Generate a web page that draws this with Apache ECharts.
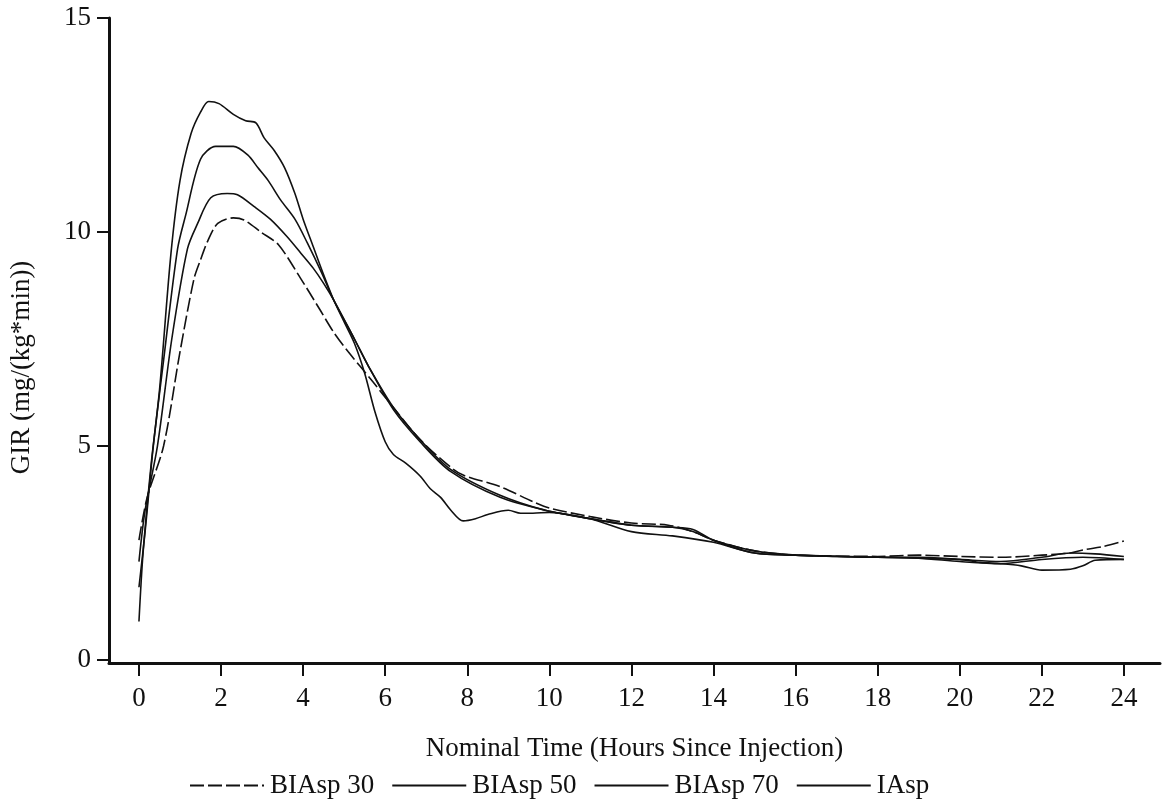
<!DOCTYPE html>
<html>
<head>
<meta charset="utf-8">
<script src="https://cdn.jsdelivr.net/npm/echarts@6/dist/echarts.min.js"></script>
<style>html,body{margin:0;padding:0;background:#fff}#c{width:1164px;height:800px}</style>
</head>
<body>
<div id="c"></div>
<script>
// Tick values
const xTicks = [0, 2, 4, 6, 8, 10, 12, 14, 16, 18, 20, 22, 24];
const yTicks = [0, 5, 10, 15];
const seriesNames = ['BIAsp 30', 'BIAsp 50', 'BIAsp 70', 'IAsp'];

// [hours, GIR]
const biasp30 = [[0,2.8],[0.2,3.8],[0.6,5.0],[1.0,7.2],[1.34,8.9],[1.5,9.35],[1.68,9.8],[1.92,10.2],[2.3,10.33],[2.56,10.28],[2.97,10.0],[3.4,9.7],[3.95,8.9],[4.4,8.2],[4.75,7.65],[5.1,7.2],[5.4,6.85],[5.7,6.5],[6.2,5.9],[6.85,5.15],[7.6,4.5],[7.9,4.32],[8.8,4.05],[9.6,3.7],[10,3.55],[11,3.35],[12,3.2],[12.9,3.15],[13.5,3.0],[14,2.8],[15,2.55],[16,2.45],[18,2.42],[19,2.45],[20,2.42],[21,2.4],[22,2.45],[22.7,2.5],[23,2.57],[23.5,2.65],[24,2.78]];
const biasp50 = [[0,1.7],[0.15,3.0],[0.35,5.0],[0.6,7.0],[0.94,9.6],[1.14,10.4],[1.5,11.7],[1.87,12.0],[2.3,12.0],[2.65,11.8],[2.9,11.5],[3.15,11.2],[3.45,10.75],[3.8,10.3],[4.1,9.75],[4.45,9.05],[4.75,8.4],[5.25,7.5],[5.6,6.85],[6.2,5.9],[6.85,5.15],[7.6,4.45],[8.8,3.85],[9.9,3.5],[11,3.3],[12,3.0],[13,2.9],[14,2.75],[15,2.5],[16,2.45],[18,2.4],[19,2.4],[20,2.35],[21,2.3],[22,2.4],[22.7,2.5],[23.3,2.48],[24,2.42]];
const biasp70 = [[0,2.3],[0.15,3.5],[0.45,5.0],[0.8,7.5],[1.18,9.6],[1.43,10.2],[1.75,10.8],[2.15,10.9],[2.4,10.87],[2.8,10.6],[3.2,10.3],[3.6,9.9],[3.95,9.5],[4.25,9.15],[4.5,8.8],[4.75,8.4],[5.25,7.5],[5.6,6.85],[6.2,5.85],[6.85,5.1],[7.6,4.4],[8.8,3.8],[9.9,3.5],[11,3.3],[12,3.15],[13,3.1],[13.5,3.05],[14,2.8],[15,2.5],[16,2.45],[18,2.4],[19,2.38],[20,2.3],[21,2.25],[22,2.35],[23,2.4],[24,2.35]];
const iasp = [[0,0.9],[0.1,2.5],[0.3,4.6],[0.5,6.3],[0.78,9.5],[1.0,11.2],[1.27,12.3],[1.5,12.8],[1.7,13.05],[1.95,13.0],[2.3,12.75],[2.6,12.6],[2.85,12.55],[3.05,12.2],[3.3,11.9],[3.55,11.5],[3.8,10.9],[4.0,10.3],[4.25,9.65],[4.5,9.0],[4.75,8.4],[5.0,7.9],[5.25,7.4],[5.5,6.7],[5.75,5.8],[6.0,5.1],[6.2,4.8],[6.5,4.6],[6.85,4.3],[7.1,4.0],[7.35,3.8],[7.6,3.5],[7.9,3.25],[8.2,3.3],[8.5,3.4],[9.0,3.5],[9.3,3.43],[9.6,3.43],[10,3.45],[11,3.3],[12,3.15],[13,3.1],[13.5,3.0],[14,2.8],[15,2.55],[16,2.45],[17,2.42],[18,2.4],[19,2.38],[20,2.35],[20.5,2.28],[21,2.25],[21.5,2.2],[22,2.1],[22.7,2.12],[23,2.2],[23.3,2.33],[24,2.35]];

const font = 'Liberation Serif';
const ink = '#111';
const chart = echarts.init(document.getElementById('c'), null, {renderer: 'canvas'});
const dataSets = [biasp30, biasp50, biasp70, iasp];
const dashes = [[14, 4], 'solid', 'solid', 'solid'];

chart.setOption({
  animation: false,
  backgroundColor: '#fff',
  grid: {left: 108, right: 4, top: 18, bottom: 137, containLabel: false},
  legend: {
    data: seriesNames,
    left: 184, top: 767,
    itemWidth: 74, itemHeight: 14, itemGap: 17,
    itemStyle: {opacity: 0},
    textStyle: {fontFamily: font, fontSize: 27, color: ink, padding: [0, 0, 0, 1]}
  },
  xAxis: {
    type: 'value', min: -0.73, max: 24.88,
    name: 'Nominal Time (Hours Since Injection)',
    nameLocation: 'middle', nameGap: 72,
    nameTextStyle: {fontFamily: font, fontSize: 27, color: ink},
    axisLine: {show: true, onZero: false, lineStyle: {color: ink, width: 3}},
    axisTick: {show: true, length: 13, customValues: xTicks, lineStyle: {color: ink, width: 2}},
    axisLabel: {customValues: xTicks, fontFamily: font, fontSize: 27, color: ink, margin: 22},
    splitLine: {show: false}
  },
  yAxis: {
    type: 'value', min: -0.07, max: 15,
    name: 'GIR (mg/(kg*min))',
    nameLocation: 'middle', nameGap: 74, nameRotate: 90,
    nameTextStyle: {fontFamily: font, fontSize: 27, color: ink, padding: [0, 54, 0, 0]},
    axisLine: {show: true, onZero: false, lineStyle: {color: ink, width: 3}},
    axisTick: {show: true, length: 12, customValues: yTicks, lineStyle: {color: ink, width: 2}},
    axisLabel: {customValues: yTicks, fontFamily: font, fontSize: 27, color: ink, margin: 18},
    splitLine: {show: false}
  },
  series: seriesNames.map((n, i) => ({
    name: n, type: 'line', data: dataSets[i],
    symbol: 'none', smooth: 0.3,
    lineStyle: {color: ink, width: 1.6, type: dashes[i]},
    itemStyle: {color: ink}
  }))
});
</script>
</body>
</html>
